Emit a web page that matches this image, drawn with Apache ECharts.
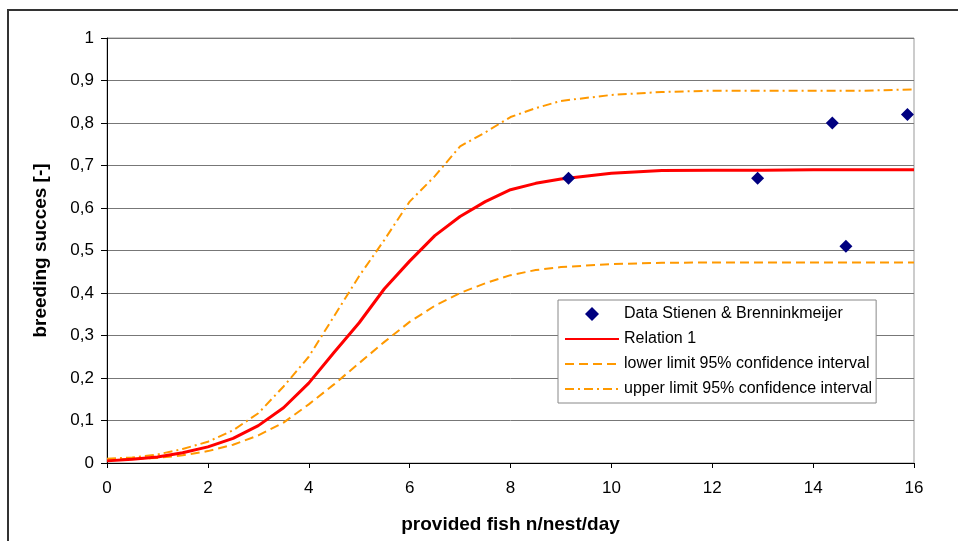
<!DOCTYPE html>
<html>
<head>
<meta charset="utf-8">
<title>breeding succes</title>
<script src="https://cdn.jsdelivr.net/npm/echarts@6/dist/echarts.min.js"></script>
<style>
  html, body { margin: 0; padding: 0; background: #fff; }
  #chart { width: 958px; height: 541px; }
</style>
</head>
<body>
<div id="chart"></div>
<script>
// fish per nest per day (x nodes of the curves)
var fishX = [0, 0.5, 1, 1.5, 2, 2.5, 3, 3.5, 4, 4.5, 5, 5.5, 6, 6.5, 7, 7.5, 8, 8.5, 9, 10, 11, 12, 13, 14, 15, 16];
// Relation 1
var relation1 = [0.005, 0.009, 0.014, 0.024, 0.038, 0.058, 0.088, 0.13, 0.188, 0.26, 0.33, 0.41, 0.475, 0.535, 0.58, 0.615, 0.643, 0.658, 0.668, 0.682, 0.688, 0.689, 0.689, 0.69, 0.69, 0.69];
// lower limit 95%
var lowerLimit = [0.008, 0.01, 0.012, 0.018, 0.028, 0.043, 0.065, 0.095, 0.138, 0.185, 0.235, 0.285, 0.332, 0.37, 0.4, 0.423, 0.442, 0.454, 0.461, 0.468, 0.471, 0.472, 0.472, 0.472, 0.472, 0.472];
// upper limit 95%
var upperLimit = [0.01, 0.013, 0.02, 0.033, 0.05, 0.077, 0.117, 0.18, 0.25, 0.345, 0.44, 0.525, 0.615, 0.675, 0.745, 0.778, 0.814, 0.835, 0.852, 0.866, 0.873, 0.876, 0.876, 0.876, 0.876, 0.879];
// Data Stienen & Brenninkmeijer
var obsX = [9.15, 12.9, 14.38, 14.65, 15.87];
var obsY = [0.67, 0.67, 0.80, 0.51, 0.82];

function pairs(xs, ys) {
  var out = [];
  for (var i = 0; i < xs.length; i++) out.push([xs[i], ys[i]]);
  return out;
}

var font = '"Liberation Sans", Arial, sans-serif';
var chart = echarts.init(document.getElementById('chart'));

var option = {
  animation: false,
  textStyle: { fontFamily: font, color: '#000' },
  graphic: [{
    type: 'rect',
    shape: { x: 8, y: 10, width: 1000, height: 600 },
    style: { fill: 'none', stroke: '#333', lineWidth: 2 },
    silent: true
  }],
  grid: {
    left: 107, top: 38, right: 44, bottom: 78,
    show: true, borderColor: '#999', borderWidth: 1, backgroundColor: '#fff'
  },
  legend: {
    orient: 'vertical',
    left: 558, top: 300,
    padding: [6, 4, 6, 6],
    itemWidth: 54, itemHeight: 14, itemGap: 9,
    backgroundColor: '#fff',
    borderColor: '#888', borderWidth: 1,
    textStyle: { fontFamily: font, fontSize: 16, color: '#000' },
    data: [
      { name: 'Data Stienen & Brenninkmeijer', icon: 'path://M0,-1L1,0L0,1L-1,0Z' },
      { name: 'Relation 1', itemStyle: { opacity: 0 } },
      { name: 'lower limit 95% confidence interval', itemStyle: { opacity: 0 } },
      { name: 'upper limit 95% confidence interval', itemStyle: { opacity: 0 } }
    ]
  },
  xAxis: {
    type: 'value', min: 0, max: 16, interval: 2,
    name: 'provided fish n/nest/day',
    nameLocation: 'middle', nameGap: 52,
    nameTextStyle: { fontFamily: font, fontSize: 19, fontWeight: 'bold', color: '#000' },
    axisLine: { show: true, onZero: false, lineStyle: { color: '#000', width: 1 } },
    axisTick: { show: true, length: 5, lineStyle: { color: '#000' } },
    axisLabel: { fontFamily: font, fontSize: 17, color: '#000', margin: 17 },
    splitLine: { show: false }
  },
  yAxis: {
    type: 'value', min: 0, max: 1, interval: 0.1,
    name: 'breeding succes [-]',
    nameLocation: 'middle', nameGap: 57,
    nameTextStyle: { fontFamily: font, fontSize: 19, fontWeight: 'bold', color: '#000' },
    axisLine: { show: true, lineStyle: { color: '#000', width: 1 } },
    axisTick: { show: true, length: 6, lineStyle: { color: '#000' } },
    axisLabel: {
      fontFamily: font, fontSize: 17, color: '#000', margin: 13,
      formatter: function (v) { return String(Math.round(v * 10) / 10).replace('.', ','); }
    },
    splitLine: { show: true, lineStyle: { color: '#777', width: 1 } }
  },
  series: [{
    name: 'Data Stienen & Brenninkmeijer',
    type: 'scatter',
    symbol: 'diamond', symbolSize: 13,
    itemStyle: { color: '#000080', opacity: 1 },
    z: 10,
    data: pairs(obsX, obsY)
  }, {
    name: 'Relation 1',
    type: 'line', symbol: 'none',
    lineStyle: { color: '#ff0000', width: 3 },
    itemStyle: { color: '#ff0000' },
    z: 5,
    data: pairs(fishX, relation1)
  }, {
    name: 'lower limit 95% confidence interval',
    type: 'line', symbol: 'none',
    lineStyle: { color: '#ff9900', width: 2, type: [9, 5] },
    itemStyle: { color: '#ff9900' },
    data: pairs(fishX, lowerLimit)
  }, {
    name: 'upper limit 95% confidence interval',
    type: 'line', symbol: 'none',
    lineStyle: { color: '#ff9900', width: 2, type: [9, 4, 2, 4] },
    itemStyle: { color: '#ff9900' },
    data: pairs(fishX, upperLimit)
  }]
};

chart.setOption(option);
</script>
</body>
</html>
